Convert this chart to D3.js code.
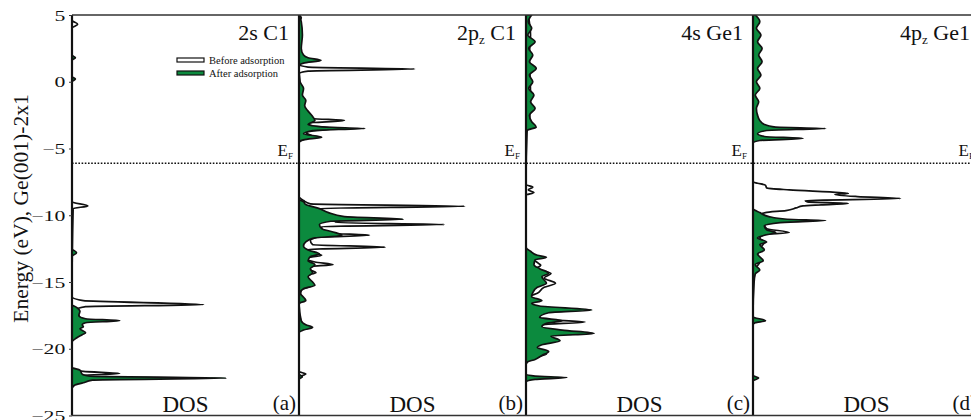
<!DOCTYPE html>
<html>
<head>
<meta charset="utf-8">
<script src="https://cdn.jsdelivr.net/npm/d3@7"></script>
<style>
  body { margin: 0; background: #fff; }
  svg { display: block; }
  text { font-family: "Liberation Serif", "Times New Roman", serif; fill: #111; }
</style>
</head>
<body>
<svg id="chart" width="971" height="420"></svg>
<script>
// Projected density of states, [energy (eV), DOS (arb. units)], energy descending.

// ---- 2s C1 ----
const before2sC1 = [
  [5, 0], [4.6, 0], [4.3, 0.25], [4.0, 0], [-9.0, 0], [-9.3, 0.7], [-9.5, 0.05],
  [-16.1, 0], [-16.4, 0.5], [-16.7, 5.8], [-16.85, 0.6], [-17.1, 0.15], [-17.5, 0.3],
  [-18.0, 0.4], [-18.9, 0.3], [-19.5, 0], [-21.5, 0], [-21.7, 0.5], [-21.85, 2.1],
  [-22.0, 0.5], [-22.15, 0.3], [-22.6, 0.1], [-23, 0], [-25, 0]
];
const after2sC1 = [
  [5, 0], [2.0, 0], [1.8, 0.15], [1.6, 0], [0.4, 0], [0.2, 0.15], [0.0, 0],
  [-12.5, 0], [-12.8, 0.2], [-13.1, 0], [-16.7, 0], [-16.9, 0.2], [-17.2, 0.35],
  [-17.5, 0.3], [-17.75, 0.6], [-17.9, 2.1], [-18.05, 0.6], [-18.2, 0.45], [-18.35, 0.5],
  [-18.5, 0.35], [-18.8, 0.6], [-18.95, 0.45], [-19.2, 0.2], [-19.5, 0], [-21.4, 0],
  [-21.6, 0.35], [-21.9, 0.45], [-22.05, 0.8], [-22.2, 6.8], [-22.35, 0.9], [-22.55, 0.5],
  [-22.75, 0.1], [-23, 0], [-25, 0]
];

// ---- 2pz C1 ----
const before2pzC1 = [
  [5, 0], [4.8, 0.1], [4.5, 0], [1.3, 0], [1.1, 0.4], [0.95, 5.1], [0.8, 0.4], [0.6, 0],
  [-1.5, 0.05], [-2.5, 0.3], [-2.75, 0.6], [-2.9, 2.0], [-3.1, 0.4], [-3.3, 0.6],
  [-3.5, 1.5], [-3.8, 0.3], [-4.1, 0.6], [-4.4, 0.1], [-4.6, 0], [-8.6, 0], [-8.9, 0.2],
  [-9.15, 0.5], [-9.33, 7.3], [-9.5, 0.8], [-9.8, 0.9], [-10.1, 1.4], [-10.4, 1.8],
  [-10.55, 1.6], [-10.7, 6.4], [-10.85, 1.0], [-11.1, 1.0], [-11.35, 1.4], [-11.5, 3.1],
  [-11.65, 0.8], [-11.9, 0.5], [-12.2, 0.6], [-12.4, 3.8], [-12.55, 0.4], [-12.8, 0.6],
  [-13.0, 1.0], [-13.2, 0.3], [-13.5, 0.7], [-13.7, 1.5], [-13.85, 0.4], [-14.1, 0.5],
  [-14.3, 0.75], [-14.5, 0.3], [-15.0, 0.4], [-15.25, 0.6], [-15.6, 0.1], [-16.2, 0.05],
  [-16.4, 0.25], [-16.6, 0], [-18.2, 0.1], [-18.4, 0.5], [-18.6, 0], [-21.7, 0],
  [-21.9, 0.3], [-22.1, 0], [-25, 0]
];
const after2pzC1 = [
  [5, 0], [4.5, 0.1], [3.5, 0.15], [2.5, 0.1], [2.0, 0.2], [1.8, 0.4], [1.6, 0.97],
  [1.4, 0.2], [1.2, 0], [0.0, 0.05], [-0.5, 0.2], [-1.0, 0.15], [-1.4, 0.3], [-1.8, 0.25],
  [-2.2, 0.4], [-2.6, 0.6], [-2.9, 0.7], [-3.2, 0.4], [-3.4, 1.2], [-3.5, 2.9],
  [-3.65, 0.6], [-3.9, 0.2], [-4.15, 1.0], [-4.35, 0.2], [-4.5, 0], [-8.8, 0],
  [-9.0, 0.2], [-9.2, 0.3], [-9.5, 0.9], [-9.8, 1.3], [-10.1, 2.0], [-10.3, 4.6],
  [-10.45, 1.4], [-10.7, 0.9], [-11.0, 1.0], [-11.3, 1.6], [-11.5, 1.9], [-11.7, 0.7],
  [-12.0, 0.3], [-12.3, 0.2], [-12.6, 0.4], [-12.9, 0.9], [-13.1, 0.5], [-13.4, 0.4],
  [-13.7, 0.7], [-14.0, 0.5], [-14.3, 0.6], [-14.6, 0.4], [-15.0, 0.6], [-15.25, 0.7],
  [-15.5, 0.2], [-15.8, 0.05], [-16.4, 0.3], [-16.6, 0], [-17.9, 0.1], [-18.2, 0.3],
  [-18.4, 0.6], [-18.6, 0.2], [-18.8, 0], [-21.9, 0], [-22.1, 0.15], [-22.3, 0], [-25, 0]
];

// ---- 4s Ge1 ----
const before4sGe1 = [
  [5, 0.1], [3.5, 0.2], [2.0, 0.15], [-1.0, 0.2], [-3.0, 0.15], [-3.6, 0.05], [-7.7, 0],
  [-7.9, 0.3], [-8.1, 0.1], [-8.3, 0.35], [-8.5, 0], [-12.8, 0], [-13.0, 0.15],
  [-13.3, 0.3], [-13.6, 0.55], [-13.75, 0.65], [-14.0, 0.45], [-14.35, 1.1], [-14.7, 0.8],
  [-15.1, 1.3], [-15.4, 0.8], [-15.85, 0.5], [-16.1, 0.15], [-16.4, 0.6], [-16.6, 0.1],
  [-16.9, 0.7], [-17.1, 2.3], [-17.3, 0.6], [-17.65, 0.4], [-17.85, 1.3], [-18.0, 2.6],
  [-18.2, 0.7], [-18.45, 0.4], [-18.7, 1.4], [-18.85, 2.7], [-19.0, 0.8], [-19.3, 1.1],
  [-19.5, 0.6], [-19.8, 0.3], [-20.1, 0.6], [-20.4, 0.9], [-20.7, 0.3], [-21.0, 0.05],
  [-21.2, 0], [-25, 0]
];
const after4sGe1 = [
  [5, 0.25], [4.5, 0.1], [4.0, 0.25], [3.5, 0.08], [3.0, 0.4], [2.5, 0.12], [2.0, 0.3],
  [1.5, 0.15], [1.0, 0.45], [0.5, 0.15], [0.0, 0.3], [-0.5, 0.12], [-1.0, 0.35],
  [-1.5, 0.2], [-2.0, 0.4], [-2.5, 0.15], [-3.0, 0.25], [-3.4, 0.45], [-3.6, 0.1],
  [-3.8, 0], [-12.4, 0], [-12.7, 0.2], [-13.0, 0.5], [-13.15, 0.9], [-13.35, 0.4],
  [-13.7, 0.35], [-14.0, 0.6], [-14.35, 1.0], [-14.6, 0.7], [-15.1, 0.9], [-15.4, 0.5],
  [-15.8, 0.3], [-16.1, 0.25], [-16.4, 0.7], [-16.6, 0.25], [-16.8, 0.6], [-17.1, 2.9],
  [-17.3, 1.0], [-17.65, 0.6], [-17.9, 1.6], [-18.1, 0.9], [-18.35, 0.7], [-18.6, 1.6],
  [-18.85, 3.0], [-19.05, 1.1], [-19.4, 1.5], [-19.7, 0.7], [-19.9, 0.5], [-20.2, 1.0],
  [-20.5, 0.7], [-20.8, 0.4], [-21.0, 0.05], [-21.2, 0], [-21.9, 0], [-22.05, 0.4],
  [-22.15, 1.8], [-22.3, 0.4], [-22.5, 0], [-25, 0]
];

// ---- 4pz Ge1 ----
const before4pzGe1 = [
  [5, 0], [-7.5, 0], [-7.6, 0.2], [-7.75, 0.55], [-7.95, 0.6], [-8.1, 1.6], [-8.3, 3.8],
  [-8.37, 4.2], [-8.45, 3.6], [-8.6, 4.6], [-8.75, 6.5], [-8.9, 2.3], [-9.0, 2.4],
  [-9.12, 4.2], [-9.22, 3.0], [-9.3, 2.2], [-9.45, 1.9], [-9.65, 1.45], [-9.8, 0.55],
  [-9.95, 0.35], [-10.1, 0.5], [-10.4, 1.0], [-10.7, 0.5], [-11.0, 0.6], [-11.3, 1.6],
  [-11.45, 0.5], [-11.7, 0.3], [-12.0, 0.5], [-12.5, 0.3], [-13.0, 0.2], [-13.5, 0.3],
  [-14.0, 0.1], [-15.0, 0], [-25, 0]
];
const after4pzGe1 = [
  [5, 0.1], [4.5, 0.3], [4.0, 0.15], [3.5, 0.35], [3.0, 0.2], [2.5, 0.4], [2.0, 0.25],
  [1.5, 0.4], [1.0, 0.2], [0.5, 0.35], [0.0, 0.15], [-0.5, 0.3], [-1.0, 0.1],
  [-1.5, 0.25], [-2.0, 0.15], [-2.5, 0.2], [-2.9, 0.3], [-3.2, 0.5], [-3.4, 1.0],
  [-3.5, 3.2], [-3.65, 0.6], [-3.9, 0.2], [-4.1, 0.5], [-4.25, 2.2], [-4.4, 0.3],
  [-4.6, 0], [-9.5, 0], [-9.8, 0.3], [-10.1, 0.7], [-10.3, 1.5], [-10.4, 3.2],
  [-10.55, 1.2], [-10.8, 0.5], [-11.1, 0.6], [-11.3, 1.0], [-11.5, 0.5], [-11.7, 0.2],
  [-12.0, 0.6], [-12.2, 0.3], [-12.6, 0.5], [-12.9, 0.2], [-13.4, 0.45], [-13.7, 0.1],
  [-14.1, 0.3], [-14.4, 0.1], [-15.0, 0.05], [-17.6, 0], [-17.9, 0.55], [-18.05, 0.1],
  [-18.2, 0], [-22.0, 0], [-22.2, 0.25], [-22.4, 0], [-25, 0]
];

// Panel labels: orbital, subscript, atom
const orbitals   = ["2s", "2p", "4s", "4p"];
const orbitalSub = ["", "z", "", "z"];
const atoms      = ["C1", "C1", "Ge1", "Ge1"];
const panelTags  = ["(a)", "(b)", "(c)", "(d)"];
const energyTicks = [5, 0, -5, -10, -15, -20, -25];
const fermiLevel = -6.1;
const legendLabels = ["Before adsorption", "After adsorption"];

const beforeSeries = [before2sC1, before2pzC1, before4sGe1, before4pzGe1];
const afterSeries  = [after2sC1, after2pzC1, after4sGe1, after4pzGe1];

const GREEN = "#0c8a3e";
const SERIF = "'Liberation Serif', 'Times New Roman', serif";
const svg = d3.select("#chart");

const y = d3.scaleLinear().domain([5, -25]).range([15, 415.5]);
const panelLeft = d3.scaleLinear().domain([0, 4]).range([72, 980]);
const panelW = panelLeft(1) - panelLeft(0);

svg.append("defs").selectAll("clipPath").data(d3.range(4)).join("clipPath")
  .attr("id", i => "clip" + i)
  .append("rect")
  .attr("x", i => panelLeft(i)).attr("y", y(5))
  .attr("width", panelW).attr("height", y(-25) - y(5));

for (let i = 0; i < 4; i++) {
  const x = d3.scaleLinear().domain([0, 10]).range([panelLeft(i), panelLeft(i + 1)]);
  const area = d3.area()
    .y(d => y(d[0])).x0(x(0)).x1(d => x(d[1]))
    .curve(d3.curveMonotoneY);
  const g = svg.append("g").attr("clip-path", `url(#clip${i})`);
  g.append("path").datum(beforeSeries[i]).attr("d", area)
    .attr("fill", "#fff").attr("stroke", "#111").attr("stroke-width", 1.7)
    .attr("stroke-linejoin", "round");
  g.append("path").datum(afterSeries[i]).attr("d", area)
    .attr("fill", GREEN).attr("stroke", "#111").attr("stroke-width", 1.7)
    .attr("stroke-linejoin", "round");

  // panel's zero-DOS axis
  svg.append("line")
    .attr("x1", x(0)).attr("x2", x(0)).attr("y1", y(5)).attr("y2", y(-25))
    .attr("stroke", "#111").attr("stroke-width", 2.2);

  const right = panelLeft(i + 1);

  // title
  const t = svg.append("text")
    .attr("x", right - 10).attr("y", 40)
    .attr("text-anchor", "end").style("font-size", "22px");
  t.append("tspan").text(orbitals[i]);
  if (orbitalSub[i]) {
    t.append("tspan").text(orbitalSub[i]).attr("dy", 4).style("font-size", "13px");
    t.append("tspan").text("\u00a0" + atoms[i]).attr("dy", -4);
  } else {
    t.append("tspan").text(" " + atoms[i]);
  }

  // Fermi level label
  const ef = svg.append("text")
    .attr("x", right - 6).attr("y", y(fermiLevel) - 7)
    .attr("text-anchor", "end").style("font-size", "17px");
  ef.append("tspan").text("E");
  ef.append("tspan").text("F").attr("dy", 3).style("font-size", "9px");

  // DOS axis name and panel tag
  svg.append("text")
    .attr("x", (panelLeft(i) + right) / 2).attr("y", 412)
    .attr("text-anchor", "middle").style("font-size", "23px").text("DOS");
  svg.append("text")
    .attr("x", right - 3).attr("y", 410)
    .attr("text-anchor", "end").style("font-size", "21px").text(panelTags[i]);
}

// frame
svg.append("line").attr("x1", panelLeft(0)).attr("x2", 980)
  .attr("y1", y(5)).attr("y2", y(5)).attr("stroke", "#333").attr("stroke-width", 1.5);
svg.append("line").attr("x1", panelLeft(0)).attr("x2", 980)
  .attr("y1", y(-25)).attr("y2", y(-25)).attr("stroke", "#333").attr("stroke-width", 1.5);

// Fermi level
svg.append("line").attr("x1", panelLeft(0)).attr("x2", 980)
  .attr("y1", y(fermiLevel)).attr("y2", y(fermiLevel))
  .attr("stroke", "#111").attr("stroke-width", 1.6).attr("stroke-dasharray", "1.6,1.6");

// energy axis
const yAxis = svg.append("g").attr("transform", `translate(${panelLeft(0)},0)`)
  .call(d3.axisLeft(y).tickValues(energyTicks).tickSize(3).tickFormat(d3.format("d")))
  .attr("font-family", SERIF);
yAxis.select(".domain").remove();
yAxis.selectAll(".tick line").attr("stroke", "#333");
yAxis.selectAll(".tick text")
  .attr("x", -4.6).attr("dy", "0.34em")
  .attr("transform", "scale(1.45,1)")
  .style("font-family", SERIF).style("font-size", "15px").attr("fill", "#111");

svg.append("text")
  .attr("transform", `translate(28,${(92 + 325) / 2}) rotate(-90)`)
  .attr("text-anchor", "middle").style("font-size", "21.5px")
  .text("Energy (eV), Ge(001)-2x1");

// legend
const legend = svg.append("g");
legendLabels.forEach((lab, k) => {
  const cy = 60 + k * 13;
  legend.append("rect").attr("x", 177).attr("y", cy - 2).attr("width", 27).attr("height", 4)
    .attr("fill", k === 0 ? "#fff" : GREEN).attr("stroke", "#111").attr("stroke-width", 1.2);
  legend.append("text").attr("x", 209).attr("y", cy + 3.5)
    .style("font-size", "10.5px").text(lab);
});
</script>
</body>
</html>
